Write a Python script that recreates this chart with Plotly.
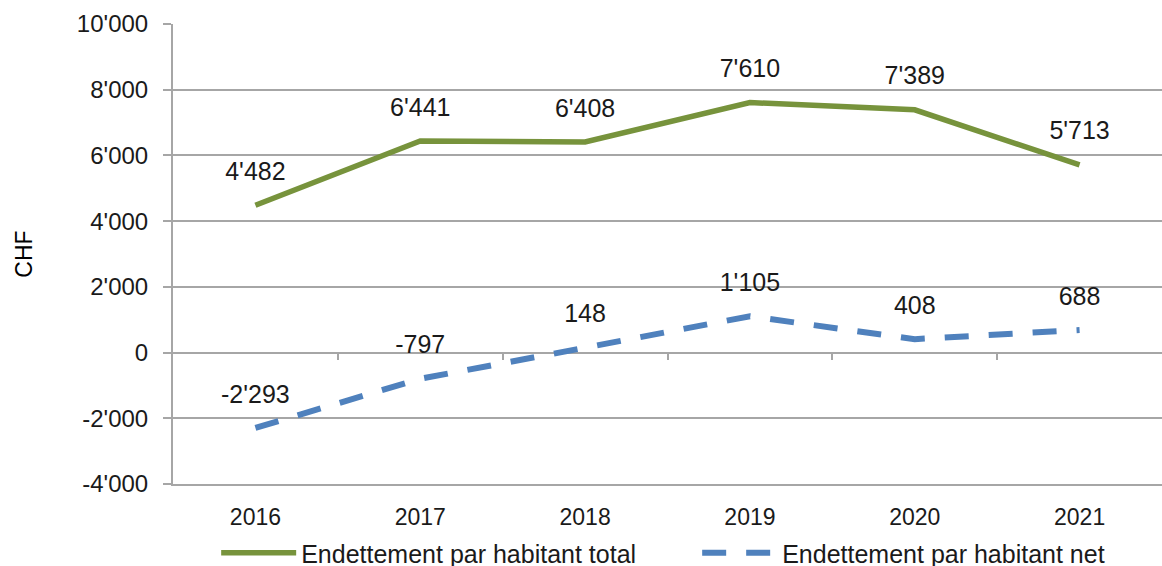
import plotly.graph_objects as go

years = ["2016", "2017", "2018", "2019", "2020", "2021"]
total = [4482, 6441, 6408, 7610, 7389, 5713]
net = [-2293, -797, 148, 1105, 408, 688]
y_ticks = [-4000, -2000, 0, 2000, 4000, 6000, 8000, 10000]
y_range = [-4000, 10000]

GREEN = "#77933C"
BLUE = "#4F81BD"
GRID = "#A6A6A6"
TXT = "#1a1a1a"
FONT = "Liberation Sans, Arial, sans-serif"

def fmt(v):
    return f"{v:,}".replace(",", "'")

fig = go.Figure()
fig.add_trace(go.Scatter(x=years, y=total, mode="lines", name="Endettement par habitant total",
                         line=dict(color=GREEN, width=5.5), hoverinfo="skip"))
fig.add_trace(go.Scatter(x=years, y=net, mode="lines", name="Endettement par habitant net",
                         line=dict(color=BLUE, width=6, dash="24px,20px"), hoverinfo="skip"))

for series in (total, net):
    fig.add_trace(go.Scatter(x=years, y=series, mode="markers+text",
                             text=[fmt(v) for v in series], textposition="top center",
                             marker=dict(size=29, color="rgba(0,0,0,0)"),
                             textfont=dict(family=FONT, size=25, color=TXT),
                             showlegend=False, hoverinfo="skip"))

# empty trace so the zero-line category tick axis is drawn
fig.add_trace(go.Scatter(x=[], y=[], xaxis="x2", yaxis="y", showlegend=False, hoverinfo="skip"))

zero_pos = (0 - y_range[0]) / (y_range[1] - y_range[0])

fig.update_layout(
    width=1162, height=566,
    margin=dict(l=173, r=0, t=24, b=82, autoexpand=False),
    paper_bgcolor="white", plot_bgcolor="white",
    showlegend=True,
    legend=dict(orientation="h", x=0.53, xanchor="center", y=-0.15, yanchor="middle",
                font=dict(family=FONT, size=25, color=TXT),
                itemwidth=75, tracegroupgap=0, entrywidth=391),
    xaxis=dict(type="category", range=[-0.5, len(years) - 0.5], showgrid=False,
               showline=True, linecolor=GRID, linewidth=2, ticks="",
               tickfont=dict(family=FONT, size=23, color=TXT),
               ticklabelstandoff=11),
    xaxis2=dict(overlaying="x", anchor="free", position=zero_pos, range=[-0.5, len(years) - 0.5],
                tickmode="array", tickvals=[i + 0.5 for i in range(len(years) - 1)],
                ticks="outside", ticklen=6, tickwidth=2, tickcolor=GRID,
                showticklabels=False, showgrid=False, showline=False, zeroline=False),
    yaxis=dict(range=y_range, tickvals=y_ticks, ticktext=[fmt(v) for v in y_ticks],
               showgrid=True, gridcolor=GRID, gridwidth=2, zeroline=False,
               showline=True, linecolor=GRID, linewidth=2, ticks="outside", ticklen=8,
               tickcolor=GRID, tickwidth=2, ticklabelstandoff=10,
               tickfont=dict(family=FONT, size=24, color=TXT),
               title=dict(text="CHF", font=dict(family=FONT, size=23, color="#000"),
                          standoff=38)),
)

fig.write_html("out.html", config={"displayModeBar": False},
               post_script="document.body.style.margin='0';document.body.style.overflow='hidden';")
